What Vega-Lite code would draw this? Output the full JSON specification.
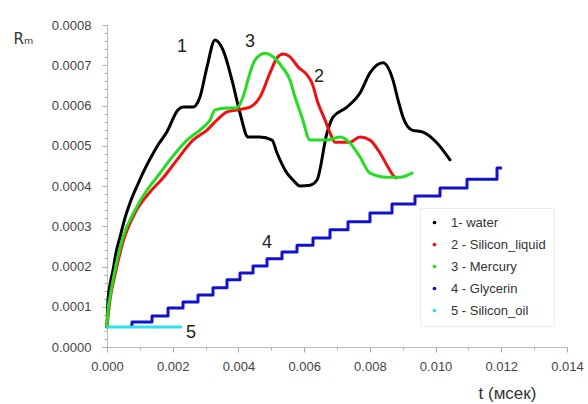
{
  "$schema": "https://vega.github.io/schema/vega-lite/v6.json",
  "width": 460,
  "height": 322,
  "autosize": {"type": "none"},
  "padding": {"left": 107, "top": 25, "right": 21, "bottom": 57},
  "background": "white",
  "config": {"view": {"stroke": null}, "font": "Liberation Sans"},
  "datasets": {
    "curves": [
      {"s": "1-  water", "t": 0, "R": 0.00005},
      {"s": "1-  water", "t": 0.00003, "R": 0.000117},
      {"s": "1-  water", "t": 0.000091, "R": 0.000154},
      {"s": "1-  water", "t": 0.000183, "R": 0.000191},
      {"s": "1-  water", "t": 0.000274, "R": 0.000234},
      {"s": "1-  water", "t": 0.000396, "R": 0.000273},
      {"s": "1-  water", "t": 0.000548, "R": 0.000321},
      {"s": "1-  water", "t": 0.0007, "R": 0.000358},
      {"s": "1-  water", "t": 0.000943, "R": 0.000405},
      {"s": "1-  water", "t": 0.001157, "R": 0.000443},
      {"s": "1-  water", "t": 0.001309, "R": 0.000467},
      {"s": "1-  water", "t": 0.001552, "R": 0.000502},
      {"s": "1-  water", "t": 0.001826, "R": 0.000535},
      {"s": "1-  water", "t": 0.002161, "R": 0.000589},
      {"s": "1-  water", "t": 0.002313, "R": 0.000596},
      {"s": "1-  water", "t": 0.002617, "R": 0.000596},
      {"s": "1-  water", "t": 0.00283, "R": 0.000621},
      {"s": "1-  water", "t": 0.003044, "R": 0.000696},
      {"s": "1-  water", "t": 0.003287, "R": 0.000763},
      {"s": "1-  water", "t": 0.00353, "R": 0.000738},
      {"s": "1-  water", "t": 0.003804, "R": 0.000663},
      {"s": "1-  water", "t": 0.004048, "R": 0.000581},
      {"s": "1-  water", "t": 0.004291, "R": 0.000522},
      {"s": "1-  water", "t": 0.004657, "R": 0.000522},
      {"s": "1-  water", "t": 0.005022, "R": 0.000514},
      {"s": "1-  water", "t": 0.005174, "R": 0.000482},
      {"s": "1-  water", "t": 0.005478, "R": 0.000432},
      {"s": "1-  water", "t": 0.005661, "R": 0.000415},
      {"s": "1-  water", "t": 0.005874, "R": 0.0004},
      {"s": "1-  water", "t": 0.006178, "R": 0.000402},
      {"s": "1-  water", "t": 0.006391, "R": 0.000415},
      {"s": "1-  water", "t": 0.006696, "R": 0.000532},
      {"s": "1-  water", "t": 0.006878, "R": 0.000571},
      {"s": "1-  water", "t": 0.007304, "R": 0.000596},
      {"s": "1-  water", "t": 0.0077, "R": 0.000631},
      {"s": "1-  water", "t": 0.008004, "R": 0.000681},
      {"s": "1-  water", "t": 0.008399, "R": 0.000706},
      {"s": "1-  water", "t": 0.008704, "R": 0.000663},
      {"s": "1-  water", "t": 0.008857, "R": 0.000614},
      {"s": "1-  water", "t": 0.009009, "R": 0.000571},
      {"s": "1-  water", "t": 0.009283, "R": 0.000539},
      {"s": "1-  water", "t": 0.009617, "R": 0.000534},
      {"s": "1-  water", "t": 0.010044, "R": 0.000507},
      {"s": "1-  water", "t": 0.010439, "R": 0.000465},

      {"s": "2 - Silicon_liquid", "t": 0, "R": 0.00005},
      {"s": "2 - Silicon_liquid", "t": 0.000091, "R": 0.000117},
      {"s": "2 - Silicon_liquid", "t": 0.000243, "R": 0.000179},
      {"s": "2 - Silicon_liquid", "t": 0.000487, "R": 0.000261},
      {"s": "2 - Silicon_liquid", "t": 0.000852, "R": 0.000333},
      {"s": "2 - Silicon_liquid", "t": 0.001309, "R": 0.000385},
      {"s": "2 - Silicon_liquid", "t": 0.001704, "R": 0.000420},
      {"s": "2 - Silicon_liquid", "t": 0.00213, "R": 0.000465},
      {"s": "2 - Silicon_liquid", "t": 0.002617, "R": 0.000514},
      {"s": "2 - Silicon_liquid", "t": 0.003044, "R": 0.000539},
      {"s": "2 - Silicon_liquid", "t": 0.003348, "R": 0.000564},
      {"s": "2 - Silicon_liquid", "t": 0.003652, "R": 0.000584},
      {"s": "2 - Silicon_liquid", "t": 0.003957, "R": 0.000589},
      {"s": "2 - Silicon_liquid", "t": 0.004352, "R": 0.000596},
      {"s": "2 - Silicon_liquid", "t": 0.004657, "R": 0.000621},
      {"s": "2 - Silicon_liquid", "t": 0.004961, "R": 0.000681},
      {"s": "2 - Silicon_liquid", "t": 0.005174, "R": 0.000718},
      {"s": "2 - Silicon_liquid", "t": 0.005357, "R": 0.000728},
      {"s": "2 - Silicon_liquid", "t": 0.00557, "R": 0.000721},
      {"s": "2 - Silicon_liquid", "t": 0.005813, "R": 0.000696},
      {"s": "2 - Silicon_liquid", "t": 0.006087, "R": 0.000676},
      {"s": "2 - Silicon_liquid", "t": 0.006239, "R": 0.000656},
      {"s": "2 - Silicon_liquid", "t": 0.006422, "R": 0.000606},
      {"s": "2 - Silicon_liquid", "t": 0.006635, "R": 0.000564},
      {"s": "2 - Silicon_liquid", "t": 0.006787, "R": 0.000532},
      {"s": "2 - Silicon_liquid", "t": 0.00694, "R": 0.000509},
      {"s": "2 - Silicon_liquid", "t": 0.007396, "R": 0.000509},
      {"s": "2 - Silicon_liquid", "t": 0.0077, "R": 0.000522},
      {"s": "2 - Silicon_liquid", "t": 0.008004, "R": 0.000514},
      {"s": "2 - Silicon_liquid", "t": 0.008309, "R": 0.000482},
      {"s": "2 - Silicon_liquid", "t": 0.008552, "R": 0.000447},
      {"s": "2 - Silicon_liquid", "t": 0.008704, "R": 0.000427},
      {"s": "2 - Silicon_liquid", "t": 0.008796, "R": 0.00042},

      {"s": "3 - Mercury", "t": 0, "R": 0.00005},
      {"s": "3 - Mercury", "t": 0.00003, "R": 0.00009},
      {"s": "3 - Mercury", "t": 0.000091, "R": 0.000124},
      {"s": "3 - Mercury", "t": 0.000243, "R": 0.000191},
      {"s": "3 - Mercury", "t": 0.000487, "R": 0.000273},
      {"s": "3 - Mercury", "t": 0.000852, "R": 0.00034},
      {"s": "3 - Mercury", "t": 0.001217, "R": 0.00039},
      {"s": "3 - Mercury", "t": 0.001522, "R": 0.000422},
      {"s": "3 - Mercury", "t": 0.001917, "R": 0.000465},
      {"s": "3 - Mercury", "t": 0.002435, "R": 0.000514},
      {"s": "3 - Mercury", "t": 0.00283, "R": 0.000539},
      {"s": "3 - Mercury", "t": 0.003135, "R": 0.000564},
      {"s": "3 - Mercury", "t": 0.003287, "R": 0.000589},
      {"s": "3 - Mercury", "t": 0.003652, "R": 0.000594},
      {"s": "3 - Mercury", "t": 0.003957, "R": 0.000594},
      {"s": "3 - Mercury", "t": 0.004139, "R": 0.000621},
      {"s": "3 - Mercury", "t": 0.004352, "R": 0.000681},
      {"s": "3 - Mercury", "t": 0.004504, "R": 0.000713},
      {"s": "3 - Mercury", "t": 0.004809, "R": 0.00073},
      {"s": "3 - Mercury", "t": 0.005052, "R": 0.000721},
      {"s": "3 - Mercury", "t": 0.005326, "R": 0.000696},
      {"s": "3 - Mercury", "t": 0.00557, "R": 0.000663},
      {"s": "3 - Mercury", "t": 0.005722, "R": 0.000621},
      {"s": "3 - Mercury", "t": 0.005935, "R": 0.000571},
      {"s": "3 - Mercury", "t": 0.006178, "R": 0.000514},
      {"s": "3 - Mercury", "t": 0.006696, "R": 0.000514},
      {"s": "3 - Mercury", "t": 0.007091, "R": 0.000522},
      {"s": "3 - Mercury", "t": 0.007396, "R": 0.000507},
      {"s": "3 - Mercury", "t": 0.0077, "R": 0.000472},
      {"s": "3 - Mercury", "t": 0.008004, "R": 0.000432},
      {"s": "3 - Mercury", "t": 0.008522, "R": 0.000422},
      {"s": "3 - Mercury", "t": 0.008917, "R": 0.000422},
      {"s": "3 - Mercury", "t": 0.009283, "R": 0.000432},

      {"s": "4 - Glycerin", "t": 0.0007, "R": 0.000052},
      {"s": "4 - Glycerin", "t": 0.000761, "R": 0.000062},
      {"s": "4 - Glycerin", "t": 0.00137, "R": 0.000077},
      {"s": "4 - Glycerin", "t": 0.001857, "R": 0.000097},
      {"s": "4 - Glycerin", "t": 0.002313, "R": 0.000112},
      {"s": "4 - Glycerin", "t": 0.00277, "R": 0.000129},
      {"s": "4 - Glycerin", "t": 0.003226, "R": 0.000147},
      {"s": "4 - Glycerin", "t": 0.003652, "R": 0.000167},
      {"s": "4 - Glycerin", "t": 0.004048, "R": 0.000184},
      {"s": "4 - Glycerin", "t": 0.004444, "R": 0.000201},
      {"s": "4 - Glycerin", "t": 0.00487, "R": 0.000219},
      {"s": "4 - Glycerin", "t": 0.005326, "R": 0.000236},
      {"s": "4 - Glycerin", "t": 0.005783, "R": 0.000253},
      {"s": "4 - Glycerin", "t": 0.00627, "R": 0.000271},
      {"s": "4 - Glycerin", "t": 0.006787, "R": 0.000291},
      {"s": "4 - Glycerin", "t": 0.007335, "R": 0.000311},
      {"s": "4 - Glycerin", "t": 0.008004, "R": 0.000333},
      {"s": "4 - Glycerin", "t": 0.008674, "R": 0.000355},
      {"s": "4 - Glycerin", "t": 0.009374, "R": 0.000375},
      {"s": "4 - Glycerin", "t": 0.010135, "R": 0.000395},
      {"s": "4 - Glycerin", "t": 0.010957, "R": 0.000417},
      {"s": "4 - Glycerin", "t": 0.01187, "R": 0.000445},
      {"s": "4 - Glycerin", "t": 0.01202, "R": 0.000445},

      {"s": "5 - Silicon_oil", "t": 0, "R": 0.00005},
      {"s": "5 - Silicon_oil", "t": 0.00228, "R": 0.00005}
    ],
    "labels": [
      {"t": 0.002283, "R": 0.000745, "label": "1"},
      {"t": 0.004352, "R": 0.000758, "label": "3"},
      {"t": 0.006452, "R": 0.000671, "label": "2"},
      {"t": 0.00487, "R": 0.000258, "label": "4"},
      {"t": 0.002557, "R": 0.000035, "label": "5"}
    ]
  },
  "encoding": {
    "x": {
      "field": "t",
      "type": "quantitative",
      "scale": {"domain": [0, 0.014], "nice": false, "zero": false},
      "axis": {
        "title": "t (мсек)",
        "titleFont": "Liberation Sans",
        "titleFontSize": 17,
        "titleFontWeight": "normal",
        "titleColor": "#333333",
        "titleX": 400,
        "titleY": 51,
        "titleAlign": "center",
        "titleBaseline": "alphabetic",
        "values": [0, 0.001, 0.002, 0.003, 0.004, 0.005, 0.006, 0.007, 0.008, 0.009, 0.01, 0.011, 0.012, 0.013, 0.014],
        "labelExpr": "abs(datum.value*500 - round(datum.value*500)) < 0.01 ? format(datum.value, '.3f') : ''",
        "labelFont": "Liberation Sans",
        "labelFontSize": 13,
        "labelColor": "#444444",
        "labelPadding": 8,
        "labelOverlap": false,
        "labelFlush": false,
        "tickSize": {"condition": {"test": "abs(datum.value*500 - round(datum.value*500)) < 0.01", "value": 5}, "value": 3},
        "tickColor": "#aaaaaa",
        "domainColor": "#bbbbbb",
        "grid": false
      }
    },
    "y": {
      "field": "R",
      "type": "quantitative",
      "scale": {"domain": [0, 0.0008], "nice": false, "zero": false},
      "axis": {
        "title": "Rₘ",
        "titleFont": "DejaVu Sans",
        "titleAngle": 0,
        "titleX": -94,
        "titleY": 18,
        "titleAlign": "left",
        "titleBaseline": "alphabetic",
        "titleFontSize": 15,
        "titleFontWeight": "normal",
        "titleColor": "#333333",
        "values": [0, 0.00002, 0.00004, 0.00006, 0.00008, 0.0001, 0.00012, 0.00014, 0.00016, 0.00018, 0.0002, 0.00022, 0.00024, 0.00026, 0.00028, 0.0003, 0.00032, 0.00034, 0.00036, 0.00038, 0.0004, 0.00042, 0.00044, 0.00046, 0.00048, 0.0005, 0.00052, 0.00054, 0.00056, 0.00058, 0.0006, 0.00062, 0.00064, 0.00066, 0.00068, 0.0007, 0.00072, 0.00074, 0.00076, 0.00078, 0.0008],
        "labelExpr": "abs(datum.value*10000 - round(datum.value*10000)) < 0.01 ? format(datum.value, '.4f') : ''",
        "labelFont": "Liberation Sans",
        "labelFontSize": 13,
        "labelColor": "#444444",
        "labelPadding": 11,
        "labelOverlap": false,
        "labelFlush": false,
        "tickSize": {"condition": {"test": "abs(datum.value*10000 - round(datum.value*10000)) < 0.01", "value": 5}, "value": 3},
        "tickColor": "#aaaaaa",
        "domainColor": "#bbbbbb",
        "grid": false
      }
    }
  },
  "layer": [
    {
      "data": {"name": "curves"},
      "transform": [{"filter": "datum.s == '1-  water' || datum.s == '2 - Silicon_liquid' || datum.s == '3 - Mercury'"}],
      "mark": {"type": "line", "strokeWidth": 3, "strokeJoin": "round", "strokeCap": "round", "interpolate": "monotone"},
      "encoding": {
        "color": {
          "field": "s",
          "type": "nominal",
          "scale": {
            "domain": ["1-  water", "2 - Silicon_liquid", "3 - Mercury", "4 - Glycerin", "5 - Silicon_oil"],
            "range": ["#000000", "#ee1111", "#22dd22", "#1111cc", "#33ddee"]
          },
          "legend": {
            "orient": "none",
            "legendX": 313,
            "legendY": 183,
            "title": null,
            "padding": 8,
            "strokeColor": "#ececec",
            "fillColor": "#ffffff",
            "symbolType": "circle",
            "symbolSize": 14,
            "symbolStrokeWidth": 0,
            "labelFont": "Liberation Sans",
            "labelFontSize": 13,
            "labelColor": "#333333",
            "rowPadding": 8,
            "labelOffset": 10,
            "encode": {"symbols": {"update": {"fill": {"scale": "color", "field": "value"}, "opacity": {"value": 1}}}}
          }
        }
      }
    },
    {
      "data": {"name": "curves"},
      "transform": [{"filter": "datum.s == '4 - Glycerin'"}],
      "mark": {"type": "line", "strokeWidth": 3, "interpolate": "step-after", "strokeJoin": "round"},
      "encoding": {"color": {"field": "s", "type": "nominal"}}
    },
    {
      "data": {"name": "curves"},
      "transform": [{"filter": "datum.s == '5 - Silicon_oil'"}],
      "mark": {"type": "line", "strokeWidth": 3},
      "encoding": {"color": {"field": "s", "type": "nominal"}}
    },
    {
      "data": {"name": "labels"},
      "mark": {"type": "text", "font": "Liberation Sans", "fontSize": 18, "color": "#222222", "align": "center", "baseline": "middle"},
      "encoding": {"text": {"field": "label", "type": "nominal"}}
    }
  ]
}
